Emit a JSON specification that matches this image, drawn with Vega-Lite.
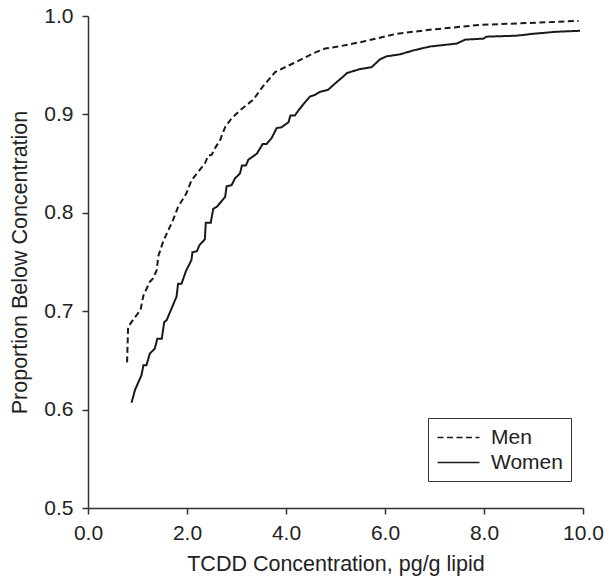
{
  "$schema": "https://vega.github.io/schema/vega-lite/v6.json",
  "width": 495,
  "height": 492,
  "autosize": {"type": "none"},
  "padding": {"left": 88, "top": 16, "right": 21, "bottom": 68},
  "background": "white",
  "config": {
    "view": {"stroke": null},
    "font": "Liberation Sans",
    "axis": {
      "grid": false,
      "labelFlush": false,
      "labelOverlap": false,
      "domainColor": "#333333",
      "domainWidth": 1.5,
      "tickColor": "#333333",
      "tickWidth": 1.5,
      "tickSize": 6,
      "labelFont": "Liberation Sans",
      "labelFontSize": 21,
      "labelColor": "#222222",
      "titleFont": "Liberation Sans",
      "titleFontSize": 21.5,
      "titleFontWeight": "normal",
      "titleColor": "#222222"
    }
  },
  "data": {
    "values": [
      {"sex": "Men", "x": 0.79, "y": 0.648},
      {"sex": "Men", "x": 0.81, "y": 0.684},
      {"sex": "Men", "x": 0.95, "y": 0.694},
      {"sex": "Men", "x": 1.06, "y": 0.701},
      {"sex": "Men", "x": 1.12, "y": 0.716},
      {"sex": "Men", "x": 1.25, "y": 0.730},
      {"sex": "Men", "x": 1.31, "y": 0.733},
      {"sex": "Men", "x": 1.39, "y": 0.742},
      {"sex": "Men", "x": 1.42, "y": 0.756},
      {"sex": "Men", "x": 1.52, "y": 0.771},
      {"sex": "Men", "x": 1.72, "y": 0.793},
      {"sex": "Men", "x": 1.82, "y": 0.806},
      {"sex": "Men", "x": 1.99, "y": 0.820},
      {"sex": "Men", "x": 2.09, "y": 0.833},
      {"sex": "Men", "x": 2.20, "y": 0.840},
      {"sex": "Men", "x": 2.36, "y": 0.850},
      {"sex": "Men", "x": 2.43, "y": 0.858},
      {"sex": "Men", "x": 2.50, "y": 0.859},
      {"sex": "Men", "x": 2.57, "y": 0.866},
      {"sex": "Men", "x": 2.67, "y": 0.874},
      {"sex": "Men", "x": 2.77, "y": 0.887},
      {"sex": "Men", "x": 2.90, "y": 0.896},
      {"sex": "Men", "x": 3.07, "y": 0.904},
      {"sex": "Men", "x": 3.34, "y": 0.915},
      {"sex": "Men", "x": 3.51, "y": 0.927},
      {"sex": "Men", "x": 3.78, "y": 0.943},
      {"sex": "Men", "x": 4.15, "y": 0.952},
      {"sex": "Men", "x": 4.55, "y": 0.962},
      {"sex": "Men", "x": 4.79, "y": 0.967},
      {"sex": "Men", "x": 5.06, "y": 0.969},
      {"sex": "Men", "x": 5.56, "y": 0.974},
      {"sex": "Men", "x": 6.24, "y": 0.982},
      {"sex": "Men", "x": 6.91, "y": 0.986},
      {"sex": "Men", "x": 7.92, "y": 0.991},
      {"sex": "Men", "x": 8.93, "y": 0.993},
      {"sex": "Men", "x": 9.91, "y": 0.995},
      {"sex": "Women", "x": 0.88, "y": 0.607},
      {"sex": "Women", "x": 0.95, "y": 0.620},
      {"sex": "Women", "x": 1.08, "y": 0.635},
      {"sex": "Women", "x": 1.12, "y": 0.645},
      {"sex": "Women", "x": 1.18, "y": 0.645},
      {"sex": "Women", "x": 1.25, "y": 0.657},
      {"sex": "Women", "x": 1.35, "y": 0.662},
      {"sex": "Women", "x": 1.40, "y": 0.672},
      {"sex": "Women", "x": 1.49, "y": 0.672},
      {"sex": "Women", "x": 1.54, "y": 0.689},
      {"sex": "Women", "x": 1.59, "y": 0.691},
      {"sex": "Women", "x": 1.69, "y": 0.703},
      {"sex": "Women", "x": 1.79, "y": 0.715},
      {"sex": "Women", "x": 1.82, "y": 0.728},
      {"sex": "Women", "x": 1.89, "y": 0.728},
      {"sex": "Women", "x": 1.98, "y": 0.741},
      {"sex": "Women", "x": 2.09, "y": 0.752},
      {"sex": "Women", "x": 2.11, "y": 0.760},
      {"sex": "Women", "x": 2.20, "y": 0.761},
      {"sex": "Women", "x": 2.25, "y": 0.767},
      {"sex": "Women", "x": 2.36, "y": 0.773},
      {"sex": "Women", "x": 2.38, "y": 0.790},
      {"sex": "Women", "x": 2.48, "y": 0.790},
      {"sex": "Women", "x": 2.53, "y": 0.804},
      {"sex": "Women", "x": 2.60, "y": 0.806},
      {"sex": "Women", "x": 2.77, "y": 0.816},
      {"sex": "Women", "x": 2.80, "y": 0.827},
      {"sex": "Women", "x": 2.90, "y": 0.828},
      {"sex": "Women", "x": 2.97, "y": 0.835},
      {"sex": "Women", "x": 3.07, "y": 0.840},
      {"sex": "Women", "x": 3.11, "y": 0.848},
      {"sex": "Women", "x": 3.19, "y": 0.848},
      {"sex": "Women", "x": 3.24, "y": 0.854},
      {"sex": "Women", "x": 3.41, "y": 0.860},
      {"sex": "Women", "x": 3.53, "y": 0.870},
      {"sex": "Women", "x": 3.61, "y": 0.870},
      {"sex": "Women", "x": 3.71, "y": 0.876},
      {"sex": "Women", "x": 3.81, "y": 0.886},
      {"sex": "Women", "x": 3.91, "y": 0.887},
      {"sex": "Women", "x": 4.05, "y": 0.892},
      {"sex": "Women", "x": 4.09, "y": 0.899},
      {"sex": "Women", "x": 4.18, "y": 0.899},
      {"sex": "Women", "x": 4.28, "y": 0.906},
      {"sex": "Women", "x": 4.48, "y": 0.918},
      {"sex": "Women", "x": 4.59, "y": 0.920},
      {"sex": "Women", "x": 4.69, "y": 0.923},
      {"sex": "Women", "x": 4.85, "y": 0.925},
      {"sex": "Women", "x": 4.96, "y": 0.930},
      {"sex": "Women", "x": 5.19, "y": 0.940},
      {"sex": "Women", "x": 5.23, "y": 0.942},
      {"sex": "Women", "x": 5.49, "y": 0.946},
      {"sex": "Women", "x": 5.73, "y": 0.948},
      {"sex": "Women", "x": 5.90, "y": 0.956},
      {"sex": "Women", "x": 6.03, "y": 0.959},
      {"sex": "Women", "x": 6.30, "y": 0.961},
      {"sex": "Women", "x": 6.57, "y": 0.965},
      {"sex": "Women", "x": 6.91, "y": 0.969},
      {"sex": "Women", "x": 7.45, "y": 0.972},
      {"sex": "Women", "x": 7.62, "y": 0.976},
      {"sex": "Women", "x": 7.99, "y": 0.977},
      {"sex": "Women", "x": 8.05, "y": 0.979},
      {"sex": "Women", "x": 8.66, "y": 0.980},
      {"sex": "Women", "x": 9.00, "y": 0.982},
      {"sex": "Women", "x": 9.47, "y": 0.984},
      {"sex": "Women", "x": 9.94, "y": 0.985}
    ]
  },
  "mark": {"type": "line", "color": "#1a1a1a", "strokeWidth": 2, "strokeJoin": "miter"},
  "encoding": {
    "x": {
      "field": "x",
      "type": "quantitative",
      "scale": {"domain": [0, 10], "nice": false},
      "axis": {"values": [0, 2, 4, 6, 8, 10], "format": ".1f", "title": "TCDD Concentration, pg/g lipid", "labelPadding": 8, "titlePadding": 10}
    },
    "y": {
      "field": "y",
      "type": "quantitative",
      "scale": {"domain": [0.5, 1.0], "nice": false, "zero": false},
      "axis": {"values": [0.5, 0.6, 0.7, 0.8, 0.9, 1.0], "format": ".1f", "title": "Proportion Below Concentration", "labelPadding": 9, "titlePadding": 12}
    },
    "strokeDash": {
      "field": "sex",
      "type": "nominal",
      "scale": {"domain": ["Men", "Women"], "range": [[6, 3.5], [1, 0]]},
      "legend": {
        "title": null,
        "orient": "none",
        "legendX": 340,
        "legendY": 402,
        "direction": "vertical",
        "strokeColor": "#333333",
        "padding": 8,
        "symbolType": "M-2,0H2",
        "symbolSize": 441,
        "symbolOffset": 11,
        "symbolStrokeWidth": 1.5,
        "symbolStrokeColor": "#1a1a1a",
        "labelFontSize": 21,
        "labelFont": "Liberation Sans",
        "labelColor": "#222222",
        "labelOffset": 21,
        "rowPadding": 3
      }
    }
  }
}
